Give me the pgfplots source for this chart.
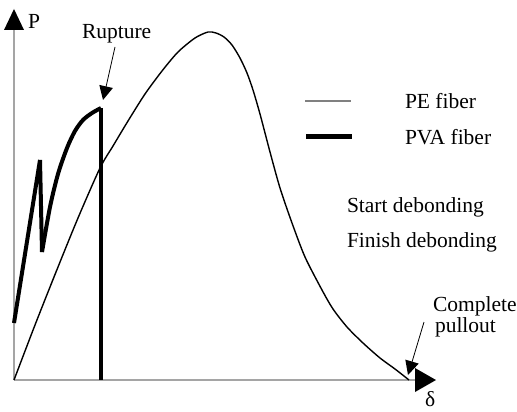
\documentclass[border=0pt]{standalone}
\usepackage{pgfplots}
\pgfplotsset{compat=1.18}
\usepackage{fontspec}
\setmainfont{Liberation Serif}
\definecolor{axgray}{RGB}{165,165,165}
\tikzset{lab/.style={font=\fontsize{21.5bp}{24bp}\selectfont, inner sep=0pt, outer sep=0pt, anchor=base west}}
\begin{document}
\begin{tikzpicture}
\begin{axis}[
  scale only axis, width=517bp, height=412bp,
  xmin=0, xmax=517, ymin=0, ymax=412, y dir=reverse,
  hide axis, clip=false,
]
% axes
\addplot[axgray, line width=1.1bp] coordinates {(14,380) (14,28)};
\addplot[axgray, line width=1.1bp] coordinates {(14,380) (416,380)};
\addplot[fill=black, draw=none] coordinates {(4,30) (24,30) (14,9)} -- cycle;
\addplot[fill=black, draw=none] coordinates {(415,368) (415,392) (436,380)} -- cycle;
% PE fiber
\addplot[black, line width=1.4bp, smooth, tension=0.45] coordinates {
(14,380) (35,325) (56,272) (78,218) (100,168) (113,146) (128,121) (145,94)
(162,71) (178,52) (195,38) (208,32) (216,33) (224,37) (232,45) (240,58)
(247,73) (253,90) (260,114) (270,152) (280,188) (292,223) (305,257)
(322,290) (333,309) (347,327) (363,343) (380,358) (395,369) (409,380)};
% PVA fiber
\addplot[black, line width=4bp] coordinates {(14,323) (40,160) (42,252)};
\addplot[black, line width=4bp, smooth, tension=0.5] coordinates {
(42,252) (50,207) (58,174) (67,148) (75,131) (83,120) (92,113) (101,108)};
\addplot[black, line width=4bp] coordinates {(101,108) (101,380)};
% legend
\addplot[gray, line width=1.1bp] coordinates {(305,101) (351,101)};
\addplot[black, line width=5bp] coordinates {(306,136) (352,136)};
\node[lab] at (axis cs:405,109) {PE fiber};
\node[lab] at (axis cs:405,145) {PVA fiber};
% annotations
\node[lab] at (axis cs:347,212) {Start debonding};
\node[lab] at (axis cs:347,247) {Finish debonding};
\node[lab] at (axis cs:82,39) {Rupture};
\addplot[black, line width=0.8bp] coordinates {(115,47) (106,87)};
\addplot[fill=black, draw=none] coordinates {(112.9,88.0) (99.3,84.9) (103,100)} -- cycle;
\node[lab] at (axis cs:433,311) {Complete};
\node[lab] at (axis cs:435,332) {pullout};
\addplot[black, line width=0.8bp] coordinates {(424,322) (412,362)};
\addplot[fill=black, draw=none] coordinates {(418.7,363.6) (405.3,359.6) (408,375)} -- cycle;
\node[lab] at (axis cs:28,29) {P};
\node[lab] at (axis cs:425,406) {δ};
\end{axis}
\pgfresetboundingbox
\useasboundingbox (current axis.south west) rectangle (current axis.north east);
\end{tikzpicture}
\end{document}
